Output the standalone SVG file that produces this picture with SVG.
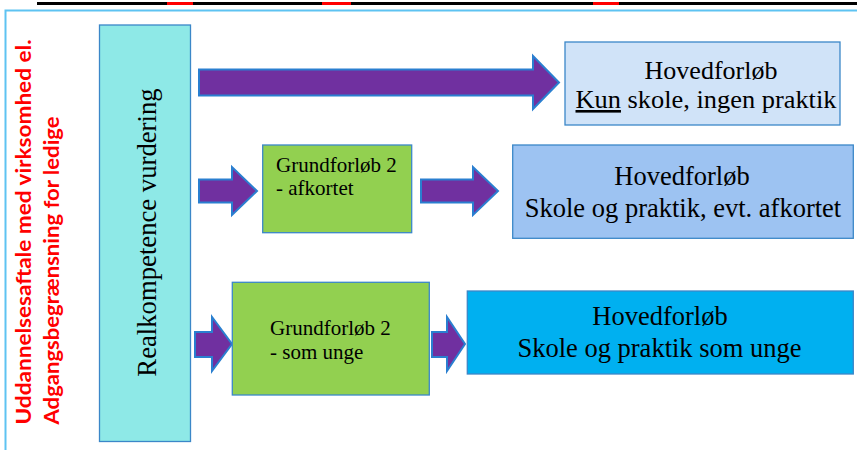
<svg xmlns="http://www.w3.org/2000/svg" width="857" height="450" viewBox="0 0 857 450">
<style>
.arrow{fill:#7030a0;stroke:#2a7fd0;stroke-width:2;stroke-linejoin:miter}
.box{stroke:#3b87c8;stroke-width:1.3}
.serif{font-family:"Liberation Serif","Times New Roman",serif;fill:#000}
.red{font-family:Lato,"Open Sans","Liberation Sans",sans-serif;font-weight:700;fill:#ff0000;font-size:21.5px}
</style>
<rect x="0" y="0" width="857" height="450" fill="#ffffff"/>
<g id="topbar">
<rect x="37" y="2" width="820" height="3" fill="#000000"/>
<rect x="167" y="2" width="26" height="3" fill="#ff0000"/>
<rect x="322" y="2" width="29" height="3" fill="#ff0000"/>
<rect x="593" y="2" width="26" height="3" fill="#ff0000"/>
</g>
<g id="frame">
<path d="M5.5 450 V10.5 H857" fill="none" stroke="#5ec3f2" stroke-width="2"/>
</g>
<g id="sidelabel">
<text class="red" transform="rotate(-90 31 424.5)" x="31" y="424.5" textLength="385" lengthAdjust="spacingAndGlyphs">Uddannelsesaftale med virksomhed el.</text>
<text class="red" transform="rotate(-90 59 424.5)" x="59" y="424.5" textLength="308" lengthAdjust="spacingAndGlyphs">Adgangsbegrænsning for ledige</text>
</g>
<g id="realkompetence">
<rect class="box" x="99.5" y="25" width="91" height="416.5" fill="#8ee9e7"/>
<text class="serif" font-size="26.7" text-anchor="middle" transform="rotate(-90 155.6 232.5)" x="155.6" y="232.5">Realkompetence vurdering</text>
</g>
<g id="connectors">
<polygon class="arrow" points="199,69.5 533,69.5 533,56 559,82.5 533,109 533,95.5 199,95.5"/>
<polygon class="arrow" points="199,179.5 232,179.5 232,167 257,191 232,215 232,202.5 199,202.5"/>
<polygon class="arrow" points="421,179.5 473,179.5 473,167 498,191 473,215 473,202.5 421,202.5"/>
<polygon class="arrow" points="195,332 212,332 212,317 232,344 212,371 212,357 195,357"/>
<polygon class="arrow" points="432,332 447,332 447,317 465,344 447,371 447,357 432,357"/>
</g>
<g id="hoved1">
<rect class="box" x="565" y="42" width="275" height="83" fill="#d0e3f8"/>
<text class="serif" font-size="26" text-anchor="middle" x="711" y="79">Hovedforløb</text>
<text class="serif" font-size="26" x="575.5" y="108" textLength="261" lengthAdjust="spacingAndGlyphs"><tspan style="text-decoration:underline">Kun</tspan> skole, ingen praktik</text>
</g>
<g id="grund1">
<rect class="box" x="262.7" y="145" width="149" height="87.7" fill="#92d050"/>
<text class="serif" font-size="21" x="276" y="171.7">Grundforløb 2</text>
<text class="serif" font-size="21" x="276" y="195">- afkortet</text>
</g>
<g id="hoved2">
<rect class="box" x="512.7" y="145" width="340.6" height="93.3" fill="#9dc3f2"/>
<text class="serif" font-size="26.5" text-anchor="middle" x="682" y="185">Hovedforløb</text>
<text class="serif" font-size="26.5" text-anchor="middle" x="683" y="216.7">Skole og praktik, evt. afkortet</text>
</g>
<g id="grund2">
<rect class="box" x="232.3" y="282.3" width="197" height="112.7" fill="#92d050"/>
<text class="serif" font-size="21" x="270" y="335">Grundforløb 2</text>
<text class="serif" font-size="21" x="270" y="359.3">- som unge</text>
</g>
<g id="hoved3">
<rect class="box" x="467.3" y="291" width="386" height="83" fill="#00b0f0"/>
<text class="serif" font-size="26.5" text-anchor="middle" x="660" y="325">Hovedforløb</text>
<text class="serif" font-size="26.5" text-anchor="middle" x="659.5" y="356.7">Skole og praktik som unge</text>
</g>
</svg>
